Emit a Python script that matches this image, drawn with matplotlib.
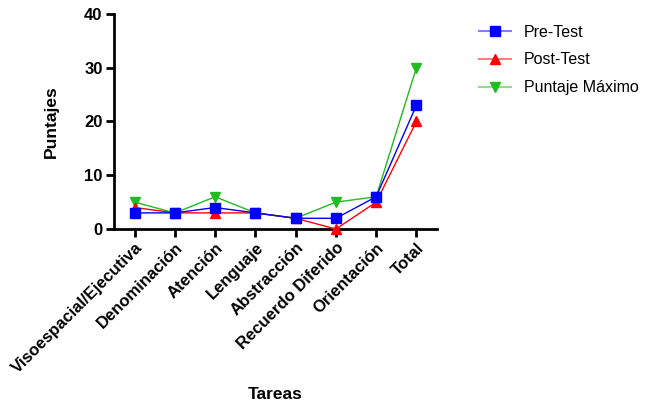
import matplotlib.pyplot as plt
from matplotlib.lines import Line2D

plt.rcParams['font.family'] = ['Liberation Sans', 'DejaVu Sans']

# Data
tareas = ['Visoespacial/Ejecutiva', 'Denominación', 'Atención', 'Lenguaje',
          'Abstracción', 'Recuerdo Diferido', 'Orientación', 'Total']
pre_test = [3, 3, 4, 3, 2, 2, 6, 23]
post_test = [4, 3, 3, 3, 2, 0, 5, 20]
puntaje_max = [5, 3, 6, 3, 2, 5, 6, 30]

fig = plt.figure(figsize=(6.46, 4.09), dpi=100)
ax = fig.add_axes([0.176, 0.44, 0.501, 0.526])

x = range(len(tareas))
ax.plot(x, puntaje_max, color='#22bb22', marker='v', markersize=7, lw=1, zorder=2)
ax.plot(x, post_test, color='#ff0000', marker='^', markersize=7, lw=1, zorder=3)
ax.plot(x, pre_test, color='#0000ff', marker='s', markersize=7, lw=1, zorder=4)

ax.set_xlim(-0.52, 7.52)
ax.set_ylim(0, 40)
ax.set_yticks([0, 10, 20, 30, 40])
ax.set_xticks(list(x))
ax.set_xticklabels(tareas, rotation=45, ha='right', rotation_mode='anchor',
                   fontsize=12, fontweight='bold')
for lab in ax.get_yticklabels():
    lab.set_fontweight('bold')
    lab.set_fontsize(12)

for s in ['top', 'right']:
    ax.spines[s].set_visible(False)
for s in ['left', 'bottom']:
    ax.spines[s].set_linewidth(2)
ax.tick_params(width=2, length=6, pad=2)
for ln in ax.lines:
    ln.set_clip_on(False)

ax.set_ylabel('Puntajes', fontsize=12.5, fontweight='bold', labelpad=18)
ax.set_xlabel('Tareas', fontsize=12.5, fontweight='bold', labelpad=8)

# legend: lighter lines, solid markers
handles = [
    Line2D([], [], color=(0, 0, 1, 0.5), marker='s', markersize=7, lw=1.5,
           markerfacecolor='#0000ff', markeredgecolor='#0000ff'),
    Line2D([], [], color=(1, 0, 0, 0.5), marker='^', markersize=7, lw=1.5,
           markerfacecolor='#ff0000', markeredgecolor='#ff0000'),
    Line2D([], [], color=(0.13, 0.73, 0.13, 0.5), marker='v', markersize=7, lw=1.5,
           markerfacecolor='#22bb22', markeredgecolor='#22bb22'),
]
labels = ['Pre-Test', 'Post-Test', 'Puntaje Máximo']
fig.legend(handles, labels, loc='upper left', bbox_to_anchor=(0.72, 0.975),
           frameon=False, fontsize=11.5, handlelength=2, labelspacing=0.8)

plt.savefig('out.png', dpi=100)
